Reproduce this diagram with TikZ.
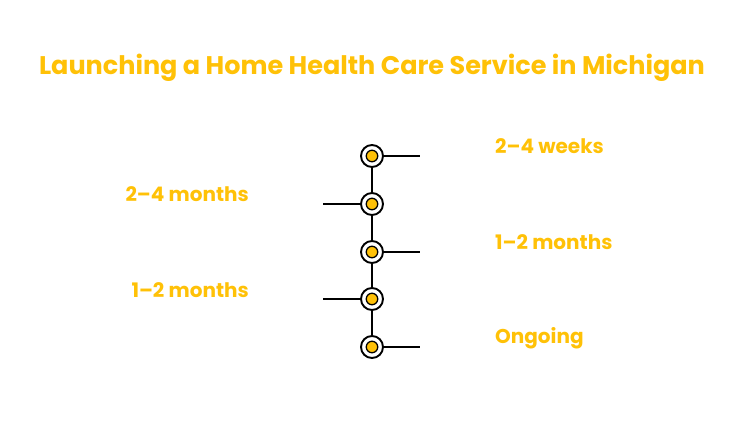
\documentclass[tikz,border=0pt]{standalone}
\usepackage{fontspec}
\newfontfamily\pop{Poppins}
\definecolor{amber}{HTML}{FFC107}
\begin{document}
\begin{tikzpicture}[x=1pt,y=-1pt,
  ring/.style={circle,draw=black,line width=1.9pt,fill=white,minimum size=22pt,inner sep=0pt},
  dot/.style={circle,draw=black,line width=1.3pt,fill=amber,minimum size=11.5pt,inner sep=0pt},
  conn/.style={line width=1.6pt,draw=black},
  lbl/.style={text=amber,font=\pop\bfseries\fontsize{20}{24}\selectfont,inner sep=0pt}]
\useasboundingbox (0,0) rectangle (756,444);
\node[text=amber,font=\pop\bfseries\fontsize{25.5}{30}\selectfont] (title) at (372,68) {Launching a Home Health Care Service in Michigan};
\foreach \i/\y in {1/156,2/204,3/252,4/299,5/347}{
  \node[ring] (r\i) at (372,\y) {};
}
\draw[conn] (r1) -- (r2);
\draw[conn] (r2) -- (r3);
\draw[conn] (r3) -- (r4);
\draw[conn] (r4) -- (r5);
\foreach \i/\y in {1/156,2/204,3/252,4/299,5/347}{
  \node[dot] (d\i) at (372,\y) {};
}
\coordinate (e1) at (420,156);
\coordinate (e2) at (323,204);
\coordinate (e3) at (420,252);
\coordinate (e4) at (323,299);
\coordinate (e5) at (420,347);
\draw[conn] (r1) -- (e1);
\draw[conn] (r2) -- (e2);
\draw[conn] (r3) -- (e3);
\draw[conn] (r4) -- (e4);
\draw[conn] (r5) -- (e5);
\node[lbl,anchor=west] (l1) at (495,146) {2–4 weeks};
\node[lbl,anchor=east] (l2) at (249,194) {2–4 months};
\node[lbl,anchor=west] (l3) at (495,242) {1–2 months};
\node[lbl,anchor=east] (l4) at (249,290) {1–2 months};
\node[lbl,anchor=west] (l5) at (495,338) {Ongoing};
\end{tikzpicture}
\end{document}
